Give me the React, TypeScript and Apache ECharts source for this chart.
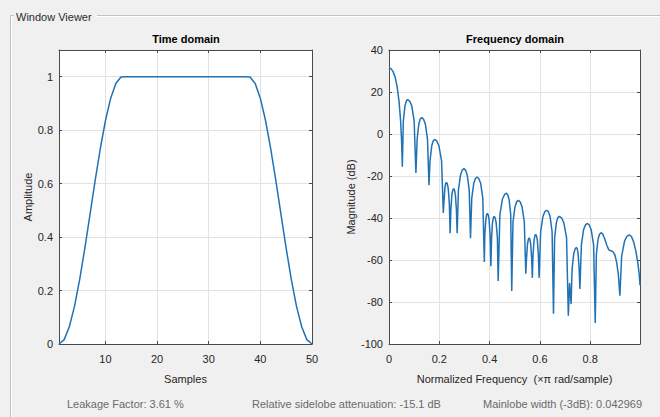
import React, { useEffect, useRef } from "react";
import * as echarts from "echarts";

// ---- Data ----
const SAMPLES = [
  1, 2, 3, 4, 5, 6, 7, 8, 9, 10, 11, 12, 13, 14, 15, 16, 17, 18, 19, 20, 21, 22, 23, 24, 25,
  26, 27, 28, 29, 30, 31, 32, 33, 34, 35, 36, 37, 38, 39, 40, 41, 42, 43, 44, 45, 46, 47, 48, 49, 50,
];
const AMPLITUDE = [
  0, 0.0164, 0.0644, 0.1409, 0.2408, 0.3576, 0.484, 0.6113, 0.7311, 0.8362, 0.9188, 0.9749, 0.999,
  1, 1, 1, 1, 1, 1, 1, 1, 1, 1, 1, 1, 1, 1, 1, 1, 1, 1, 1, 1, 1, 1, 1, 1,
  0.999, 0.9749, 0.9188, 0.8362, 0.7311, 0.6113, 0.484, 0.3576, 0.2408, 0.1409, 0.0644, 0.0164, 0,
];
const FREQ = [
  0, 0.008, 0.016, 0.024, 0.032, 0.04, 0.046, 0.05, 0.053,
  0.057, 0.0635, 0.069, 0.074, 0.082, 0.0905, 0.1, 0.107,
  0.112, 0.1185, 0.124, 0.13, 0.137, 0.1445, 0.153, 0.159,
  0.163, 0.17, 0.1755, 0.181, 0.19, 0.1985, 0.209, 0.216,
  0.218, 0.222, 0.225, 0.228, 0.232, 0.2355, 0.24, 0.243,
  0.246, 0.25, 0.2535, 0.257, 0.2605, 0.264, 0.268, 0.271,
  0.276, 0.2845, 0.291, 0.298, 0.3045, 0.311, 0.319, 0.324,
  0.329, 0.337, 0.3435, 0.35, 0.357, 0.3645, 0.373, 0.379,
  0.381, 0.385, 0.388, 0.391, 0.3945, 0.398, 0.402, 0.405,
  0.408, 0.4115, 0.415, 0.418, 0.422, 0.426, 0.431, 0.434,
  0.441, 0.4505, 0.459, 0.467, 0.472, 0.4775, 0.484, 0.488,
  0.493, 0.501, 0.5075, 0.514, 0.5215, 0.529, 0.538, 0.544,
  0.5465, 0.5505, 0.554, 0.557, 0.56, 0.5635, 0.5675, 0.57,
  0.5725, 0.5765, 0.58, 0.583, 0.5865, 0.59, 0.594, 0.597,
  0.603, 0.612, 0.6195, 0.627, 0.634, 0.6405, 0.6485, 0.654,
  0.6585, 0.6655, 0.671, 0.677, 0.686, 0.695, 0.706, 0.713,
  0.718, 0.724,
  0.728, 0.7345, 0.74, 0.745, 0.7485, 0.752, 0.756, 0.759,
  0.765, 0.7735, 0.781, 0.788, 0.796, 0.804, 0.8135, 0.82,
  0.8245, 0.8315, 0.837, 0.843, 0.85, 0.858, 0.866, 0.874, 0.882, 0.89, 0.898, 0.905, 0.912, 0.918,
  0.925, 0.9365, 0.946, 0.955, 0.964, 0.973, 0.982, 0.99, 0.995, 0.998,
];
const MAG_DB = [
  31.5, 31.1, 29.8, 27.2, 22.8, 15.5, 6.5, -3, -15.6,
  6.2, 13.4, 15.7, 16.4, 15.7, 13.4, 6.2, -18.5,
  -2.4, 4.8, 7.1, 7.8, 7.1, 4.8, -2.4, -24.4,
  -12.8, -5.6, -3.3, -2.6, -3.3, -5.6, -12.8, -37.6,
  -33.2, -26, -23.7, -23, -23.7, -26, -33.2, -47.2,
  -36.2, -29, -26.7, -26, -26.7, -29, -36.2, -47.2,
  -26.7, -19.5, -17.2, -16.5, -17.2, -19.5, -26.7, -49.6,
  -30.7, -23.5, -21.2, -20.5, -21.2, -23.5, -30.7, -61,
  -48, -40.8, -38.5, -37.8, -38.5, -40.8, -48, -63,
  -49.4, -42.2, -39.9, -39.2, -39.9, -42.2, -49.4, -70,
  -38.4, -31.2, -28.9, -28.2, -28.9, -31.2, -38.4, -74.7,
  -41.8, -34.6, -32.3, -31.6, -32.3, -34.6, -41.8, -66.5,
  -59.7, -52.5, -50.2, -49.5, -50.2, -52.5, -59.7, -68.5,
  -58, -50.8, -48.5, -47.8, -48.5, -50.8, -58, -68.5,
  -46.5, -39.3, -37, -36.3, -37, -39.3, -46.5, -85.6,
  -49.4, -42.2, -39.9, -39.2, -39.9, -42.2, -49.4, -86.5,
  -71, -81,
  -64.2, -57, -54.7, -54, -54.7, -57, -64.2, -73.8,
  -52.8, -45.6, -43.3, -42.6, -43.3, -45.6, -52.8, -90,
  -57.2, -50, -47.7, -47, -47.7, -50, -53, -55.2, -55.6, -56, -57.5, -61, -67, -77,
  -58.2, -51, -48.7, -48, -48.8, -51.5, -56, -62, -67, -72,
];

const PANEL_TITLE = "Window Viewer";
const TITLES = ["Time domain", "Frequency domain"];
const X_NAMES = ["Samples", "Normalized Frequency  (\u00d7\u03c0 rad/sample)"];
const Y_NAMES = ["Amplitude", "Magnitude (dB)"];
const INFO = [
  "Leakage Factor: 3.61 %",
  "Relative sidelobe attenuation: -15.1 dB",
  "Mainlobe width (-3dB): 0.042969",
];

const FONT = "'Liberation Sans', Arial, Helvetica, sans-serif";
const AXIS_COLOR = "#4a4a4a";
const GRID_COLOR = "#e2e2e2";
const TEXT_COLOR = "#262626";
const LINE_COLOR = "#1f72b6";

function axisBase(extra: any) {
  return {
    type: "value",
    axisLine: { show: true, onZero: false, lineStyle: { color: AXIS_COLOR, width: 1 } },
    axisTick: { show: true, inside: true, length: 3, lineStyle: { color: AXIS_COLOR } },
    splitLine: { show: false },
    axisLabel: { show: false },
    ...extra,
  };
}

const labelStyle = { color: TEXT_COLOR, fontSize: 11, fontFamily: FONT };
const nameStyle = { color: TEXT_COLOR, fontSize: 11, fontFamily: FONT };

export default function App() {
  const ref = useRef<HTMLDivElement>(null);
  useEffect(() => {
    if (!ref.current) return;
    const chart = echarts.init(ref.current, undefined, { renderer: "svg" });
    const timeData = SAMPLES.map((s, i) => [s, AMPLITUDE[i]]);
    const freqData = FREQ.map((f, i) => [f, MAG_DB[i]]);
    const option: any = {
      animation: false,
      backgroundColor: "#f0f0f0",
      textStyle: { fontFamily: FONT },
      grid: [
        { left: 59, top: 50, width: 253, height: 294, show: true, backgroundColor: "#ffffff", borderWidth: 0 },
        { left: 389, top: 50, width: 251, height: 294, show: true, backgroundColor: "#ffffff", borderWidth: 0 },
      ],
      xAxis: [
        axisBase({
          gridIndex: 0, position: "bottom", min: 1, max: 50, splitNumber: 5,
          name: X_NAMES[0], nameLocation: "middle", nameGap: 29, nameTextStyle: nameStyle,
          axisLabel: { show: true, showMinLabel: false, margin: 9, ...labelStyle },
          splitLine: { show: true, lineStyle: { color: GRID_COLOR } },
        }),
        axisBase({ gridIndex: 0, position: "top", min: 1, max: 50, splitNumber: 5 }),
        axisBase({
          gridIndex: 1, position: "bottom", min: 0, max: 0.998, interval: 0.2,
          name: X_NAMES[1], nameLocation: "middle", nameGap: 29, nameTextStyle: nameStyle,
          axisLabel: { show: true, showMaxLabel: false, margin: 9, ...labelStyle },
          splitLine: { show: true, lineStyle: { color: GRID_COLOR } },
        }),
        axisBase({ gridIndex: 1, position: "top", min: 0, max: 0.998, interval: 0.2 }),
      ],
      yAxis: [
        axisBase({
          gridIndex: 0, position: "left", min: 0, max: 1.1, interval: 0.2,
          name: Y_NAMES[0], nameLocation: "middle", nameGap: 25, nameTextStyle: nameStyle,
          axisLabel: { show: true, showMaxLabel: false, margin: 6, ...labelStyle },
          splitLine: { show: true, lineStyle: { color: GRID_COLOR } },
        }),
        axisBase({ gridIndex: 0, position: "right", min: 0, max: 1.1, interval: 0.2 }),
        axisBase({
          gridIndex: 1, position: "left", min: -100, max: 40, interval: 20,
          name: Y_NAMES[1], nameLocation: "middle", nameGap: 33, nameTextStyle: nameStyle,
          axisLabel: { show: true, margin: 6, ...labelStyle },
          splitLine: { show: true, lineStyle: { color: GRID_COLOR } },
        }),
        axisBase({ gridIndex: 1, position: "right", min: -100, max: 40, interval: 20 }),
      ],
      series: [
        {
          type: "line", xAxisIndex: 0, yAxisIndex: 0, data: timeData, showSymbol: false,
          lineStyle: { color: LINE_COLOR, width: 1.5 }, itemStyle: { color: LINE_COLOR }, z: 3,
        },
        {
          type: "line", xAxisIndex: 2, yAxisIndex: 2, data: freqData, showSymbol: false,
          lineStyle: { color: LINE_COLOR, width: 1.5 }, itemStyle: { color: LINE_COLOR }, z: 3,
        },
      ],
      graphic: [
        { type: "line", silent: true, shape: { x1: 10.5, y1: 15.5, x2: 14, y2: 15.5 }, style: { stroke: "#c2c2c2", lineWidth: 1 } },
        { type: "line", silent: true, shape: { x1: 97, y1: 15.5, x2: 660, y2: 15.5 }, style: { stroke: "#c2c2c2", lineWidth: 1 } },
        { type: "line", silent: true, shape: { x1: 11, y1: 16.5, x2: 14, y2: 16.5 }, style: { stroke: "#ffffff", lineWidth: 1 } },
        { type: "line", silent: true, shape: { x1: 97, y1: 16.5, x2: 660, y2: 16.5 }, style: { stroke: "#ffffff", lineWidth: 1 } },
        { type: "line", silent: true, shape: { x1: 10.5, y1: 15.5, x2: 10.5, y2: 417 }, style: { stroke: "#c2c2c2", lineWidth: 1 } },
        { type: "line", silent: true, shape: { x1: 11.5, y1: 16.5, x2: 11.5, y2: 417 }, style: { stroke: "#ffffff", lineWidth: 1 } },
        {
          type: "text", x: 16, y: 17,
          style: { text: PANEL_TITLE, font: `11px ${FONT}`, fill: "#2b2b2b", textAlign: "left", align: "left", textVerticalAlign: "middle", verticalAlign: "middle" },
        },
        {
          type: "text", x: 186, y: 39,
          style: { text: TITLES[0], font: `bold 11px ${FONT}`, fill: "#000000", textAlign: "center", align: "center", textVerticalAlign: "middle", verticalAlign: "middle" },
        },
        {
          type: "text", x: 515, y: 39,
          style: { text: TITLES[1], font: `bold 11px ${FONT}`, fill: "#000000", textAlign: "center", align: "center", textVerticalAlign: "middle", verticalAlign: "middle" },
        },
        {
          type: "text", x: 67, y: 404,
          style: { text: INFO[0], font: `11px ${FONT}`, fill: "#6a6a6a", textAlign: "left", align: "left", textVerticalAlign: "middle", verticalAlign: "middle" },
        },
        {
          type: "text", x: 252, y: 404,
          style: { text: INFO[1], font: `11px ${FONT}`, fill: "#6a6a6a", textAlign: "left", align: "left", textVerticalAlign: "middle", verticalAlign: "middle" },
        },
        {
          type: "text", x: 642, y: 404,
          style: { text: INFO[2], font: `11px ${FONT}`, fill: "#6a6a6a", textAlign: "right", align: "right", textVerticalAlign: "middle", verticalAlign: "middle" },
        },
      ],
    };
    chart.setOption(option);
    return () => chart.dispose();
  }, []);
  return (
    <div
      ref={ref}
      style={{ position: "fixed", left: 0, top: 0, width: 660, height: 417 }}
    />
  );
}
